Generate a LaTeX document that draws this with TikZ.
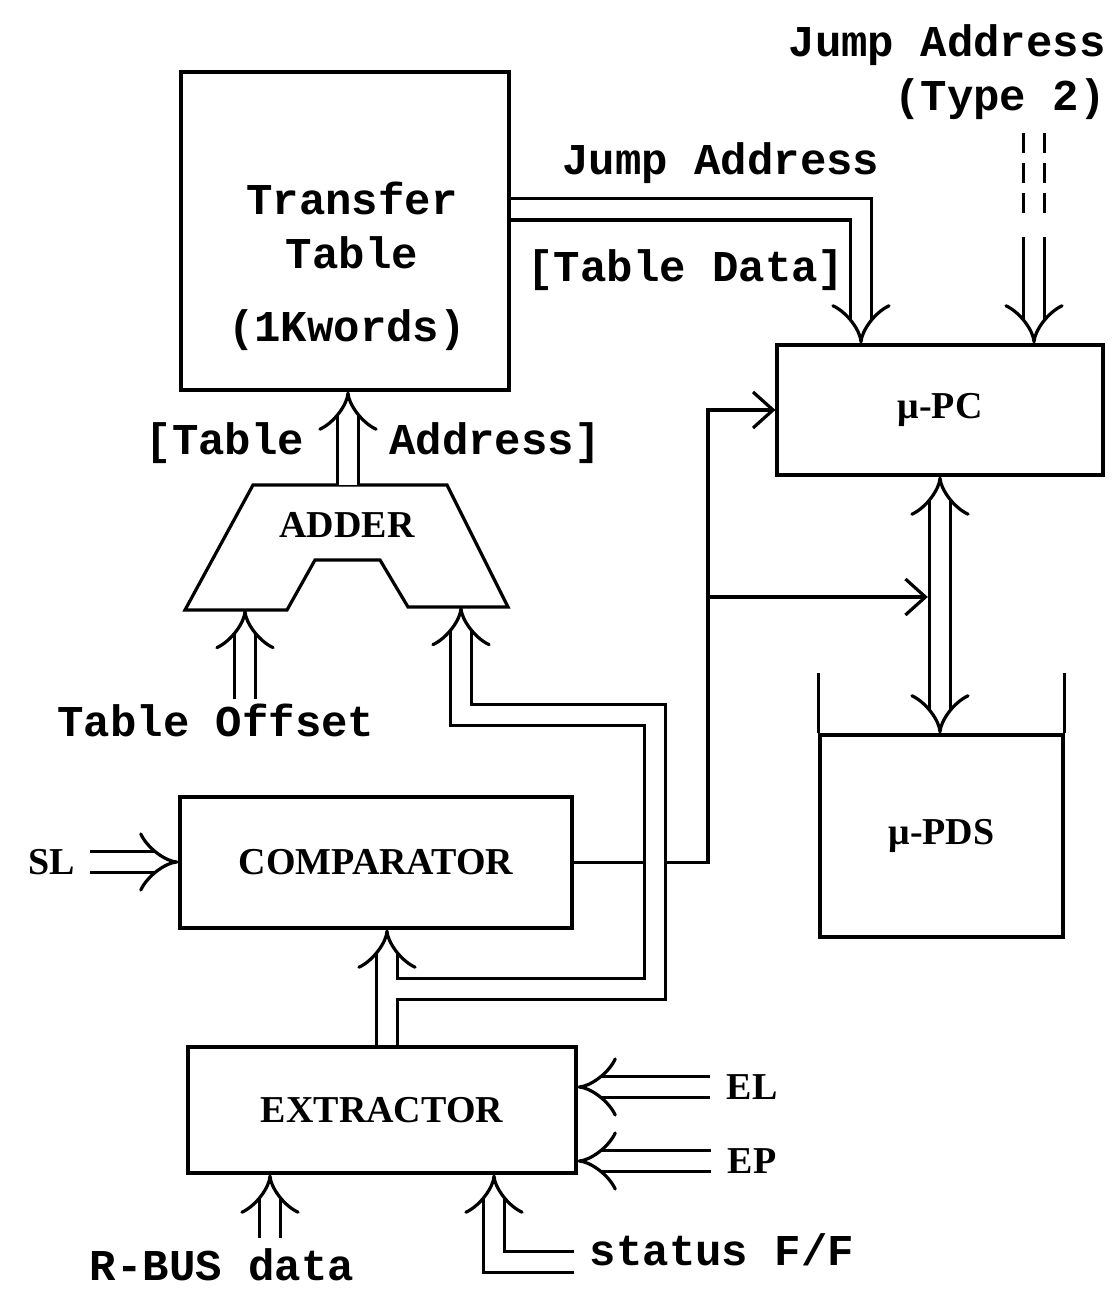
\documentclass[tikz,border=0pt]{standalone}
\usepackage{fontspec}
\setmainfont{Liberation Serif}
\setmonofont{Liberation Mono}
\usetikzlibrary{positioning, arrows.meta, calc}
\tikzset{
  % Functional block (plain rectangle)
  blk/.style={
    draw, line width=1.6pt, inner sep=0pt,
    font=\fontsize{19}{22}\selectfont\bfseries
  },
  % Typewritten label
  tlbl/.style={
    inner sep=2pt, align=center,
    font=\fontsize{22}{27}\selectfont\ttfamily\bfseries
  },
  % Signal name (serif)
  slbl/.style={
    inner sep=2pt, font=\fontsize{19}{22}\selectfont\bfseries
  },
  % Bus: two parallel lines, open head
  bus/.style={
    draw, line width=1.6pt, double, double distance=9pt
  },
  % Single control line
  sig/.style={
    draw, line width=1.6pt, -{Straight Barb[length=10pt, width=18pt]}
  }
}

\begin{document}
\begin{tikzpicture}[x=0.5pt, y=-0.5pt]

\useasboundingbox (0,0) rectangle (1115,1293);

% ============================================================
% BLOCKS
% ============================================================
\node[blk, minimum width=164pt, minimum height=159pt] (tt) at (345,231) {};
\node[tlbl] (tt-name) at (352,225) {Transfer\\Table};
\node[tlbl] (tt-size) at (347,330) {(1Kwords)};

\node[blk, minimum width=163pt, minimum height=65pt] (pc) at (940,410) {μ-PC};

\node[blk, minimum width=121.5pt, minimum height=101pt] (pds) at (941.5,836) {μ-PDS};
\draw[line width=1.6pt] (pds.north west) -- ++(0,-60);
\draw[line width=1.6pt] (pds.north east) -- ++(0,-60);

\node[blk, minimum width=196pt, minimum height=65.5pt] (cmp) at (376,862.5) {COMPARATOR};

\node[blk, minimum width=194pt, minimum height=63pt] (ext) at (382,1110) {EXTRACTOR};

% ADDER (trapezoid with notch)
\coordinate (ad-tl) at (253,485);
\coordinate (ad-tr) at (447,485);
\coordinate (ad-br) at (508,607);
\coordinate (ad-n2) at (408,607);
\coordinate (ad-n3) at (380,560);
\coordinate (ad-n4) at (315,560);
\coordinate (ad-n5) at (287,610);
\coordinate (ad-bl) at (185,610);
\draw[line width=1.6pt] (ad-tl) -- (ad-tr) -- (ad-br) -- (ad-n2) -- (ad-n3)
  -- (ad-n4) -- (ad-n5) -- (ad-bl) -- cycle;
\node[slbl] (adder) at (347,525) {ADDER};

% ============================================================
% LABELS
% ============================================================
\node[tlbl] (jmp)  at (721,163) {Jump Address};
\node[tlbl] (tdat) at (686,270) {{[}Table Data]};
\node[tlbl, align=right, anchor=east] (t2lbl) at (1110,72) {Jump Address\\(Type 2)};
\node[tlbl] (ta-l) at (225,443) {{[}Table};
\node[tlbl] (ta-r) at (495,443) {Address]};
\node[tlbl] (ofs)  at (216,720) {Table Offset};
\node[slbl] (sl)   at (52,862) {SL};
\node[slbl] (el)   at (752,1087) {EL};
\node[slbl] (ep)   at (752,1161) {EP};
\node[tlbl] (rbus) at (222,1265) {R-BUS data};
\node[tlbl] (stat) at (722,1250) {status F/F};

% ============================================================
% CONTROL LINES
% ============================================================
\coordinate (ctl) at (708,597);
\draw[sig] (cmp.east) -| (ctl) |- (pc.west);
\draw[sig] (ctl) -- ($(pc.south |- ctl)+(-12.2,0)$);

% ============================================================
% BUSES
% ============================================================
% extractor -> adder (round the comparator)
\coordinate (b1) at (387,989);
\coordinate (b2) at (655,989);
\coordinate (b3) at (655,715);
\coordinate (b4) at (461,715);
\coordinate (ad-in2) at (461,607);
\draw[bus, -{Implies}] (b1 |- ext.north) -- (b1) -- (b2) -- (b3) -- (b4) -- (ad-in2);
% branch into the comparator
\draw[bus, -{Implies}] ($(b1)+(0,-9)$) -- (b1 |- cmp.south);

% adder -> transfer table
\coordinate (ad-out) at (348,485);
\draw[bus, -{Implies}] (ad-out) -- (ad-out |- tt.south);

% table offset -> adder
\coordinate (ad-in1) at (245,610);
\draw[bus, -{Implies}] (ad-in1 |- ofs.north) -- (ad-in1);

% transfer table -> mu-PC
\coordinate (jb) at (861,209.5);
\draw[bus, -{Implies}] (tt.east |- jb) -| (jb |- pc.north);

% jump address (type 2) -> mu-PC
\coordinate (t2a) at (1034,133);
\coordinate (t2b) at (1034,215);
\coordinate (t2c) at (1034,237);
\draw[bus, dash pattern=on 10pt off 5pt] (t2a) -- (t2b);
\draw[bus, -{Implies}] (t2c) -- (t2c |- pc.north);

% mu-PC <-> mu-PDS
\draw[bus, {Implies}-{Implies}] (pc.south) -- (pc.south |- pds.north);

% inputs of comparator and extractor
\draw[bus, -{Implies}] ([xshift=5pt]sl.east) -- (sl.east -| cmp.west);
\draw[bus, -{Implies}] ([xshift=-6pt]el.west) -- (el.west -| ext.east);
\draw[bus, -{Implies}] ([xshift=-6pt]ep.west) -- (ep.west -| ext.east);
\coordinate (rb) at (270,1238);
\draw[bus, -{Implies}] (rb) -- (rb |- ext.south);
\coordinate (sf) at (494,1262);
\draw[bus, -{Implies}] ([xshift=-6pt]stat.west |- sf) -- (sf) -- (sf |- ext.south);

\end{tikzpicture}
\end{document}
